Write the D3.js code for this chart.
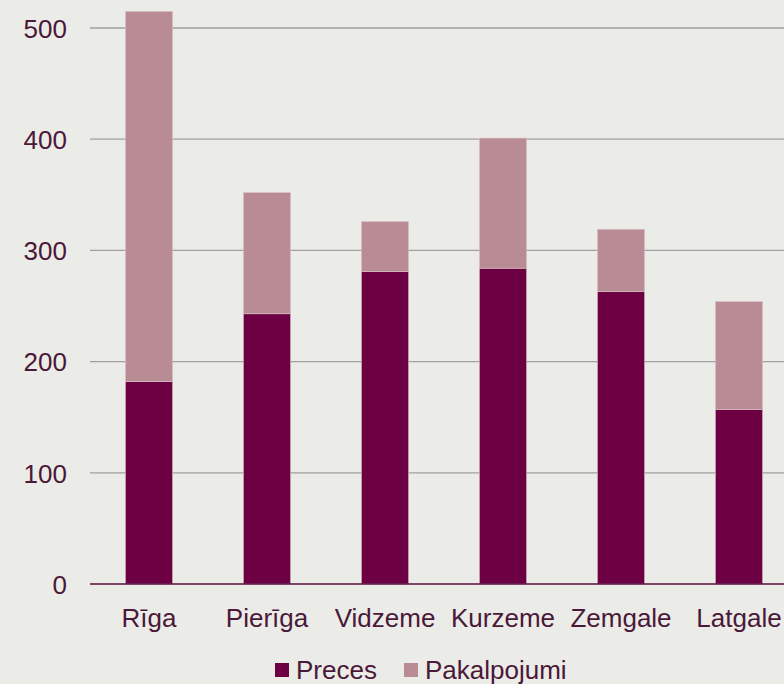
<!DOCTYPE html>
<html>
<head>
<meta charset="utf-8">
<script src="https://cdn.jsdelivr.net/npm/d3@7"></script>
<style>
  body { margin: 0; background: #ebebe7; overflow: hidden; }
  svg { display: block; }
  svg text { font-family: "Liberation Sans", Arial, sans-serif; font-size: 26px; fill: #4a1838; }
</style>
</head>
<body>
<div id="container"></div>
<script>
var regions = ["Rīga", "Pierīga", "Vidzeme", "Kurzeme", "Zemgale", "Latgale"];
var preces = [182, 243, 281, 284, 263, 157];
var pakalpojumi = [333, 109, 45, 117, 56, 97];
var seriesNames = ["Preces", "Pakalpojumi"];
var seriesColors = ["#6d0042", "#b98b94"];
var yTicks = [0, 100, 200, 300, 400, 500];

var width = 784, height = 684;
var margin = {left: 90, top: 28, bottom: 100};

var svg = d3.select("#container").append("svg")
    .attr("width", width)
    .attr("height", height);

svg.append("rect").attr("width", width).attr("height", height).attr("fill", "#ebebe7");

var x = d3.scaleBand()
    .domain(regions)
    .range([margin.left, margin.left + 118 * regions.length])
    .paddingInner(0.6)
    .paddingOuter(0.3);

var y = d3.scaleLinear()
    .domain([0, 500])
    .range([584, margin.top]);

// gridlines
svg.append("g")
    .selectAll("line")
    .data(yTicks.slice(1))
    .enter().append("line")
    .attr("x1", margin.left)
    .attr("x2", width)
    .attr("y1", function(d) { return y(d); })
    .attr("y2", function(d) { return y(d); })
    .attr("stroke", "#a3a09f")
    .attr("stroke-width", 1.3);

var table = regions.map(function(r, i) {
    return {region: r, Preces: preces[i], Pakalpojumi: pakalpojumi[i]};
});
var stacked = d3.stack().keys(seriesNames)(table);

svg.append("g")
    .selectAll("g")
    .data(stacked)
    .enter().append("g")
    .attr("fill", function(d, i) { return seriesColors[i]; })
    .selectAll("rect")
    .data(function(d) { return d; })
    .enter().append("rect")
    .attr("x", function(d) { return x(d.data.region); })
    .attr("width", x.bandwidth())
    .attr("y", function(d) { return y(d[1]); })
    .attr("height", function(d) { return y(d[0]) - y(d[1]); })
    .attr("stroke", "#d9c3c8")
    .attr("stroke-width", 0.6);

// baseline
svg.append("line")
    .attr("x1", margin.left).attr("x2", width)
    .attr("y1", y(0)).attr("y2", y(0))
    .attr("stroke", "#5a1040")
    .attr("stroke-width", 1.3);

// y axis labels
var yAxis = d3.axisLeft(y).tickValues(yTicks).tickSize(0).tickPadding(0);
var gy = svg.append("g")
    .attr("transform", "translate(67,0)")
    .call(yAxis);
gy.select(".domain").remove();
gy.selectAll("text").attr("dy", "0.36em");

// x axis labels
var xAxis = d3.axisBottom(x).tickSize(0).tickPadding(0);
var gx = svg.append("g")
    .attr("transform", "translate(0,627)")
    .call(xAxis);
gx.select(".domain").remove();
gx.selectAll("text").attr("y", 0).attr("dy", 0);

// legend
var legendX = [275, 404];
var legend = svg.append("g")
    .selectAll("g")
    .data(seriesNames)
    .enter().append("g")
    .attr("transform", function(d, i) { return "translate(" + legendX[i] + ",663)"; });
legend.append("rect")
    .attr("width", 14).attr("height", 14)
    .attr("fill", function(d, i) { return seriesColors[i]; });
legend.append("text")
    .attr("x", 21).attr("y", 16)
    .text(function(d) { return d; });
</script>
</body>
</html>
